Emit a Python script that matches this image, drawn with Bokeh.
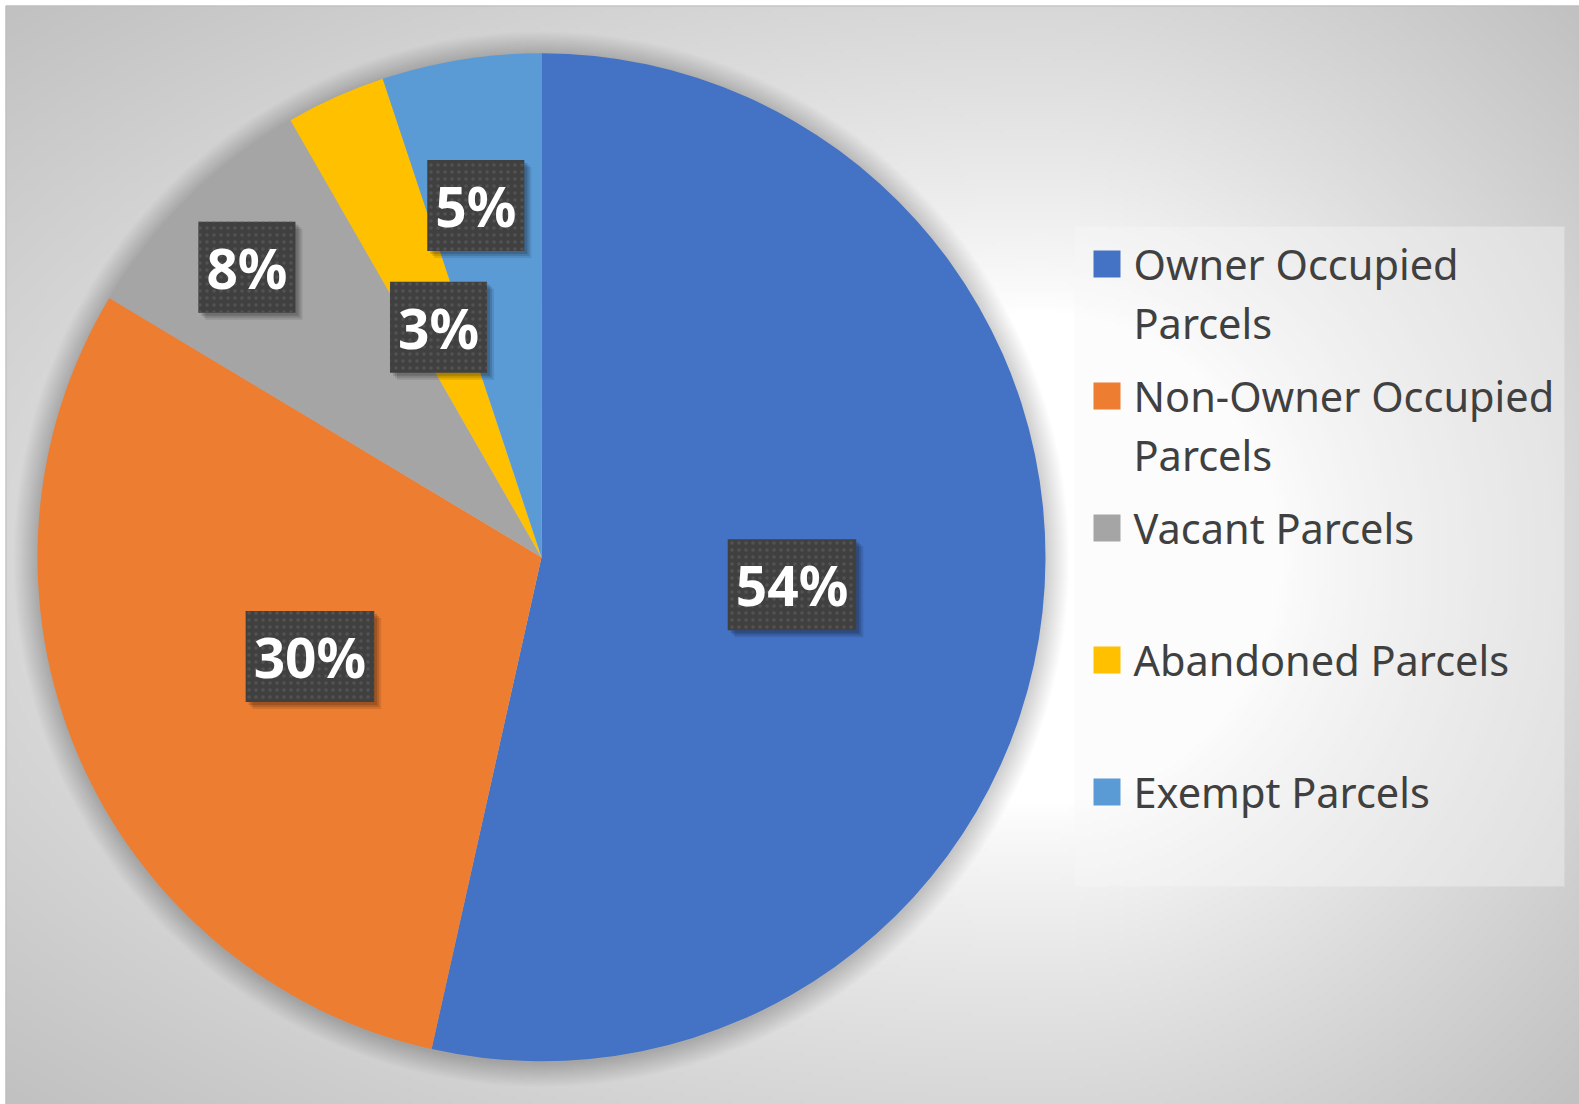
import numpy as np
from bokeh.plotting import figure
from bokeh.models import Range1d
from bokeh.embed import file_html
from bokeh.resources import INLINE
from bokeh.core.properties import value

# ---------------- data ----------------
categories = ["Owner Occupied Parcels", "Non-Owner Occupied Parcels",
              "Vacant Parcels", "Abandoned Parcels", "Exempt Parcels"]
legend_lines = [["Owner Occupied", "Parcels"],
                ["Non-Owner Occupied", "Parcels"],
                ["Vacant Parcels"],
                ["Abandoned Parcels"],
                ["Exempt Parcels"]]
shares = [53.5, 30.1, 8.1, 3.2, 5.1]
colors = ["#4472C4", "#ED7D31", "#A5A5A5", "#FFC000", "#5B9BD5"]
label_radius_frac = [0.5, 0.5, 0.82, 0.5, 0.71]
label_angle_nudge_deg = [0.0, 0.0, 1.0, 0.0, 1.4]

# ---------------- layout (reference pixel frame, y up) ----------------
W, H = 1579, 1104
def ry(y):  # top-down pixel -> data y
    return H - y

p = figure(width=W, height=H, x_range=Range1d(0, W), y_range=Range1d(0, H),
           output_backend="svg", toolbar_location=None, min_border=0,
           x_axis_type=None, y_axis_type=None)
p.grid.visible = False
p.outline_line_color = None
p.background_fill_color = "white"
p.border_fill_color = "white"

# background radial gradient of the chart area (style only)
AX0, AY0 = 5, 5  # chart-area top-left corner
gw, gh = 394, 275
gx = AX0 + (np.arange(gw) + 0.5) * (W - AX0) / gw
gyd = (np.arange(gh) + 0.5) * (H - AY0) / gh
gyr = H - gyd
X, Y = np.meshgrid(gx, gyr)
cxg, cyg = 1040.0, 560.0
nx = np.where(X < cxg, (cxg - X) / (cxg - AX0), (X - cxg) / (W - cxg))
ny = np.where(Y < cyg, (cyg - Y) / (cyg - AY0), (Y - cyg) / (H - cyg))
Rn = np.sqrt(nx ** 2 + ny ** 2)
t = np.clip((Rn - 0.45) / 0.96, 0, 1) ** 0.8
g = (255 - 62 * t).astype(np.uint8)
img = np.empty((gh, gw), dtype=np.uint32)
view = img.view(dtype=np.uint8).reshape((gh, gw, 4))
view[..., 0] = g
view[..., 1] = g
view[..., 2] = g
view[..., 3] = 255
p.image_rgba(image=[img], x=AX0, y=0, dw=W - AX0, dh=H - AY0)
# chart-area border (top and left visible)
p.line(x=[AX0 + 0.5, AX0 + 0.5, W], y=[0, ry(AY0 + 0.5), ry(AY0 + 0.5)],
       line_color="#bdbdbd", line_width=1)

# pie geometry
cx, cy, R = 541.0, ry(556.7), 504.0

# soft glow/shadow around the pie
ks = np.arange(24, 0, -1)
p.circle(x=[cx] * len(ks), y=[cy - 2] * len(ks), radius=R + ks,
         fill_color="black", fill_alpha=0.0065, line_color=None)

fr = np.array(shares) / sum(shares)
cum = np.concatenate([[0.0], np.cumsum(fr)])
start = np.pi / 2 - 2 * np.pi * cum[:-1]
end = np.pi / 2 - 2 * np.pi * cum[1:]
p.wedge(x=cx, y=cy, radius=R, start_angle=start, end_angle=end,
        direction="clock", fill_color=colors, line_color=None)

# data labels
mid = (start + end) / 2 + np.radians(label_angle_nudge_deg)
frac = np.array(label_radius_frac)
lx = cx + frac * R * np.cos(mid)
ly = cy + frac * R * np.sin(mid)
labels = [f"{int(s + 0.5)}%" for s in shares]

lab_kw = dict(text_font=value("Noto Sans"), text_font_style="bold",
              text_font_size="55px", text_align="center", text_baseline="middle",
              padding=8)
for off, a in [(7, 0.10), (5, 0.12), (3, 0.15)]:
    p.text(x=lx, y=ly, text=labels, x_offset=off, y_offset=off, text_alpha=0,
           background_fill_color="black", background_fill_alpha=a, **lab_kw)
p.text(x=lx, y=ly, text=labels, text_color="white",
       background_fill_color="#404040",
       background_hatch_pattern="dot", background_hatch_color="#525252",
       background_hatch_scale=7, background_hatch_weight=2, **lab_kw)

# legend
p.quad(left=1074, right=1564, top=ry(226), bottom=ry(886),
       fill_color="#f7f7f7", fill_alpha=0.4, line_color=None)
n = len(categories)
entry_y = [ry(263.5 + 132 * i) for i in range(n)]
p.rect(x=[1106.5] * n, y=entry_y, width=27, height=27,
       fill_color=colors, line_color=None)
tx, ty, tt = [], [], []
for i, lines in enumerate(legend_lines):
    for j, line in enumerate(lines):
        tx.append(1133)
        ty.append(entry_y[i] - 59 * j)
        tt.append(line)
p.text(x=tx, y=ty, text=tt, text_font=value("Noto Sans"), text_font_size="41.5px",
       text_color="#404040", text_align="left", text_baseline="middle")

open("out.html", "w").write(file_html(p, INLINE))
